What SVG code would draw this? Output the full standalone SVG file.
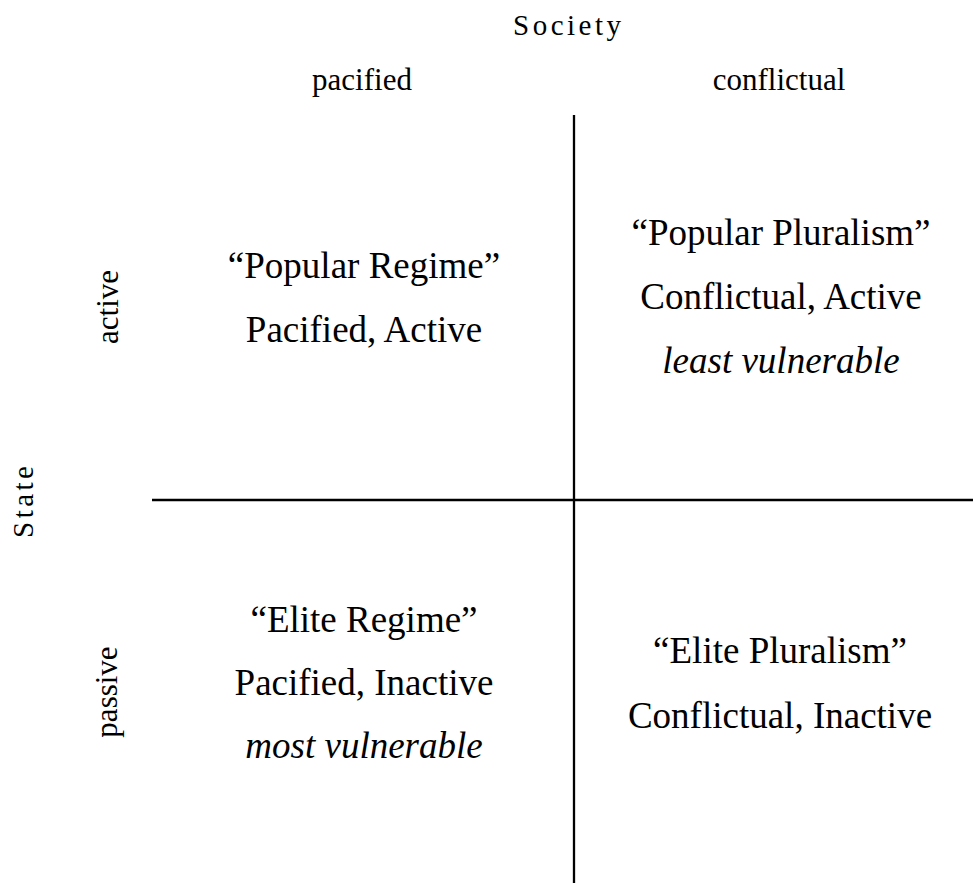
<svg xmlns="http://www.w3.org/2000/svg" width="973" height="883" viewBox="0 0 973 883">
<style>
text { font-family: "Liberation Serif", "Times New Roman", serif; fill: #000; }
.axis { font-size: 29px; letter-spacing: 3.5px; }
.hdr { font-size: 31px; text-anchor: middle; }
.q { font-size: 37px; text-anchor: middle; }
.it { font-style: italic; }
.ln { stroke: #000; stroke-width: 2.3; fill: none; }
</style>
<rect width="973" height="883" fill="#fff"/>
<g id="axes">
  <text id="society" class="axis" x="513" y="35">Society</text>
  <text class="hdr" x="362" y="90">pacified</text>
  <text class="hdr" x="779" y="90">conflictual</text>
  <text id="state" class="axis" transform="translate(33,538) rotate(-90)" x="0" y="0">State</text>
  <text class="hdr" transform="translate(118,307) rotate(-90)" x="0" y="0">active</text>
  <text class="hdr" transform="translate(117,692) rotate(-90)" x="0" y="0">passive</text>
</g>
<g id="connectors">
  <line class="ln" x1="574" y1="115" x2="574" y2="883"/>
  <line class="ln" x1="152" y1="500" x2="973" y2="500"/>
</g>
<g id="popular-regime">
  <text class="q" x="364" y="278">“Popular Regime”</text>
  <text class="q" x="364" y="342">Pacified, Active</text>
</g>
<g id="popular-pluralism">
  <text class="q" x="781" y="245">“Popular Pluralism”</text>
  <text class="q" x="781" y="309">Conflictual, Active</text>
  <text class="q it" x="781" y="373">least vulnerable</text>
</g>
<g id="elite-regime">
  <text class="q" x="364" y="632">“Elite Regime”</text>
  <text class="q" x="364" y="695">Pacified, Inactive</text>
  <text class="q it" x="364" y="758">most vulnerable</text>
</g>
<g id="elite-pluralism">
  <text class="q" x="780" y="663">“Elite Pluralism”</text>
  <text class="q" x="780" y="728">Conflictual, Inactive</text>
</g>
</svg>
